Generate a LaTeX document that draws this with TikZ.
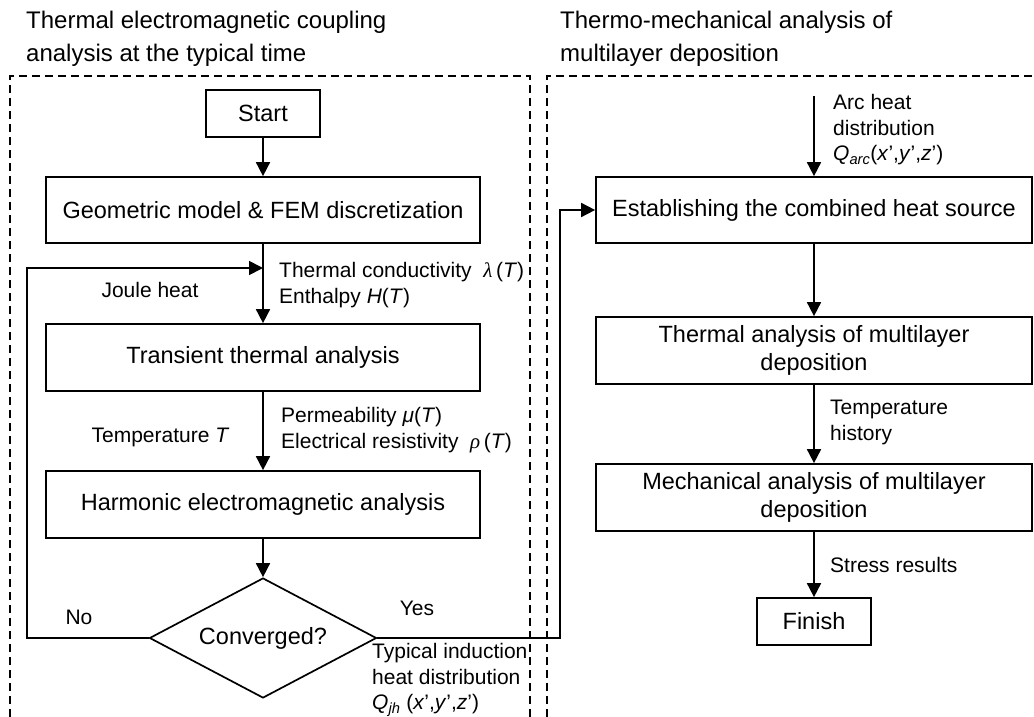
\documentclass[tikz,border=0pt]{standalone}
\usepackage{fontspec}
\setmainfont{Liberation Sans}
\newfontfamily\grk{Liberation Serif}
\usetikzlibrary{shapes.geometric,arrows.meta}
\begin{document}
\begin{tikzpicture}[x=1pt,y=-1pt,
  every node/.style={inner sep=0pt},
  box/.style={draw,line width=1.7pt,align=center,
    font=\fontsize{23.5}{28}\selectfont},
  lbl/.style={anchor=west,align=left,font=\fontsize{21}{25.5}\selectfont},
  ttl/.style={anchor=west,align=left,font=\fontsize{24}{33}\selectfont},
  arr/.style={line width=1.7pt,-{Triangle[length=14pt,width=14pt]}},
  frame/.style={line width=1.5pt,dash pattern=on 8pt off 5pt}]
\useasboundingbox (0,0) rectangle (1034,717);
% frames
\draw[frame] (10,730) -- (10,76) -- (530,76) -- (530,730);
\draw[frame] (547,730) -- (547,76) -- (1045,76);
% titles
\node[ttl] (tl) at (26,38.5) {Thermal electromagnetic coupling\\analysis at the typical time};
\node[ttl] (tr) at (560,38.5) {Thermo-mechanical analysis of\\multilayer deposition};
% left column
\node[box,minimum width=114pt,minimum height=47pt] (start) at (263,113.5) {Start};
\node[box,minimum width=434pt,minimum height=66pt] (geo) at (263,210) {Geometric model \& FEM discretization};
\node[box,minimum width=434pt,minimum height=67pt] (trans) at (263,357.5) {Transient thermal analysis};
\node[box,minimum width=434pt,minimum height=67pt] (harm) at (263,504.5) {Harmonic electromagnetic analysis};
\node[box,diamond,aspect=2.5,minimum width=227pt,minimum height=120pt] (conv) at (263,638) {Converged?};
% right column
\node[box,minimum width=436pt,minimum height=66pt] (est) at (814,210) {Establishing the combined heat source};
\node[box,minimum width=436pt,minimum height=67pt] (therm) at (814,350.5) {Thermal analysis of multilayer\\deposition};
\node[box,minimum width=436pt,minimum height=67pt] (mech) at (814,497.5) {Mechanical analysis of multilayer\\deposition};
\node[box,minimum width=114pt,minimum height=47pt] (fin) at (814,621.5) {Finish};
% coordinates
\coordinate (lp1) at (27,638);
\coordinate (lp2) at (27,268);
\coordinate (lp3) at (263,268);
\coordinate (y1) at (560,638);
\coordinate (y2) at (560,210);
\coordinate (arctop) at (814,96);
% connectors
\draw[arr] (start) -- (geo);
\draw[arr] (geo) -- (trans);
\draw[arr] (conv.west) -- (lp1) -- (lp2) -- (lp3);
\draw[arr] (trans) -- (harm);
\draw[arr] (harm) -- (conv);
\draw[arr] (conv.east) -- (y1) -- (y2) -- (est.west);
\draw[arr] (arctop) -- (est);
\draw[arr] (est) -- (therm);
\draw[arr] (therm) -- (mech);
\draw[arr] (mech) -- (fin);
% labels
\node[lbl,anchor=center] (joule) at (150,290) {Joule heat};
\node[lbl] (tc) at (279,285) {Thermal conductivity \ {\grk\itshape λ}\,(\textit{T})\\Enthalpy \textit{H}(\textit{T})};
\node[lbl,anchor=center] (temp) at (160.5,437) {Temperature \textit{T}};
\node[lbl] (perm) at (281,430) {Permeability \textit{μ}(\textit{T})\\Electrical resistivity \ {\grk\itshape ρ}\,(\textit{T})};
\node[lbl,anchor=center] (no) at (79,617) {No};
\node[lbl,anchor=center] (yes) at (417,608) {Yes};
\node[lbl] (typ) at (372,680) {Typical induction\\heat distribution\\\textit{Q}\textsubscript{\textit{jh}} (\textit{x}’,\textit{y}’,\textit{z}’)};
\node[lbl] (arc) at (833,130) {Arc heat\\distribution\\\textit{Q}\textsubscript{\textit{arc}}(\textit{x}’,\textit{y}’,\textit{z}’)};
\node[lbl] (th) at (830,422.5) {Temperature\\history};
\node[lbl] (sr) at (830,565) {Stress results};
\end{tikzpicture}
\end{document}
